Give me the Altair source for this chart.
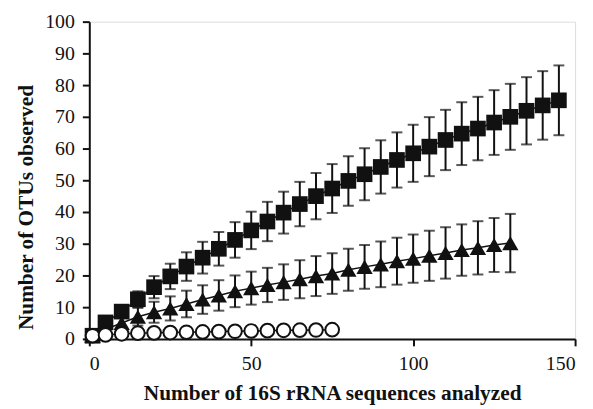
import altair as alt
import pandas as pd

# ---- data ----
sq_x = [1, 5, 10, 15, 20, 25, 30, 35, 40, 45, 50, 55, 60, 65, 70, 75, 80, 85, 90, 95,
        100, 105, 110, 115, 120, 125, 130, 135, 140, 145]
sq_y = [1.0, 5.2, 8.6, 12.5, 16.3, 19.7, 22.8, 25.6, 28.4, 31.2, 34.2, 37.0, 39.8, 42.5,
        45.0, 47.4, 49.8, 51.9, 54.2, 56.4, 58.5, 60.6, 62.7, 64.7, 66.3, 68.2, 70.0, 71.9,
        73.6, 75.2]
sq_err = [0, 1.0, 1.8, 2.5, 3.5, 4.0, 4.5, 5.0, 5.3, 5.6, 5.9, 6.2, 6.6, 7.0, 7.3, 7.7,
          7.8, 8.2, 8.4, 8.7, 9.0, 9.3, 9.5, 9.9, 10.0, 10.2, 10.4, 10.6, 10.8, 11.0]

tri_x = [1, 5, 10, 15, 20, 25, 30, 35, 40, 45, 50, 55, 60, 65, 70, 75, 80, 85, 90, 95,
         100, 105, 110, 115, 120, 125, 130]
tri_y = [1.0, 3.0, 5.0, 7.0, 8.4, 9.6, 11.0, 12.4, 13.7, 15.0, 16.0, 17.0, 17.9, 18.8,
         19.8, 20.6, 21.8, 22.7, 23.5, 24.5, 25.3, 26.2, 27.1, 28.0, 28.7, 29.6, 30.2]
tri_err = [0, 1.0, 2.0, 2.8, 3.3, 3.8, 4.2, 4.5, 4.8, 5.0, 5.2, 5.4, 5.6, 6.0, 6.3, 6.4,
           6.6, 6.9, 7.2, 7.4, 7.6, 7.9, 8.1, 8.1, 8.4, 8.5, 9.2]

cir_x = [1, 5, 10, 15, 20, 25, 30, 35, 40, 45, 50, 55, 60, 65, 70, 75]
cir_y = [1.0, 1.25, 1.6, 1.8, 1.9, 2.0, 2.1, 2.2, 2.3, 2.4, 2.5, 2.6, 2.7, 2.75, 2.8, 2.9]

x_ticks = [0, 50, 100, 150]
y_ticks = [0, 10, 20, 30, 40, 50, 60, 70, 80, 90, 100]

x_title = "Number of 16S rRNA sequences analyzed"
y_title = "Number of OTUs observed"


def frame(xs, ys, errs, name):
    d = pd.DataFrame({"x": xs, "y": ys, "err": errs})
    d["lo"] = d["y"] - d["err"]
    d["hi"] = d["y"] + d["err"]
    d["series"] = name
    return d


sq = frame(sq_x, sq_y, sq_err, "square")
tri = frame(tri_x, tri_y, tri_err, "triangle")
cir = frame(cir_x, cir_y, [0] * len(cir_x), "circle")

xs = alt.Scale(domain=[0, 150], nice=False)
ys = alt.Scale(domain=[0, 100], nice=False)

X_AXIS = alt.Axis(
    title=x_title, values=x_ticks, format="d", labelOverlap=False,
    labelFont="Liberation Serif", labelFontSize=20, labelColor="#111",
    labelPadding=8, tickSize=7, tickWidth=2, tickColor="#111",
    domainColor="#111", domainWidth=2, grid=False,
    titleFont="Liberation Serif", titleFontSize=21.5, titleFontWeight="bold",
    titleColor="#111", titleY=61, titleBaseline="alphabetic")
Y_AXIS = alt.Axis(
    title=y_title, values=y_ticks, format="d", labelOverlap=False,
    labelFont="Liberation Serif", labelFontSize=20, labelColor="#111",
    labelPadding=8, tickSize=7, tickWidth=2, tickColor="#111",
    domainColor="#111", domainWidth=2, grid=False,
    titleFont="Liberation Serif", titleFontSize=21.5, titleFontWeight="bold",
    titleColor="#111", titleX=-57, titleY=187, titleBaseline="alphabetic")


def X(f):
    return alt.X(f + ":Q", scale=xs, axis=X_AXIS)


def Y(f):
    return alt.Y(f + ":Q", scale=ys, axis=Y_AXIS)


def series_layers(d, shape, size, filled):
    base = alt.Chart(d)
    eb = d[d["err"] > 0]
    layers = []
    if len(eb):
        b = alt.Chart(eb)
        layers.append(b.mark_rule(color="#111", strokeWidth=2).encode(
            x=X("x"), y=Y("lo"), y2="hi:Q"))
        layers.append(b.mark_tick(color="#111", thickness=2, size=11, orient="horizontal").encode(
            x=X("x"), y=Y("hi")))
        layers.append(b.mark_tick(color="#111", thickness=2, size=11, orient="horizontal").encode(
            x=X("x"), y=Y("lo")))
    layers.append(base.mark_line(color="#111", strokeWidth=1.5).encode(x=X("x"), y=Y("y")))
    if filled:
        layers.append(base.mark_point(shape=shape, size=size, filled=True,
                                      color="#111", opacity=1).encode(x=X("x"), y=Y("y")))
    else:
        layers.append(base.mark_point(shape=shape, size=size, filled=False,
                                      fill="white", fillOpacity=1, stroke="#111",
                                      strokeWidth=2, opacity=1).encode(x=X("x"), y=Y("y")))
    return layers


layers = []
layers += series_layers(sq, "square", 250, True)
layers += series_layers(tri, "triangle-up", 270, True)
layers += series_layers(cir, "circle", 190, False)

chart = alt.layer(*layers).properties(
    width=490, height=320,
    autosize=alt.AutoSizeParams(type="none"),
    padding={"left": 82, "top": 12, "right": 10, "bottom": 75},
).configure_view(stroke=None).configure(background="white")

chart.save("out.html", embed_options={"renderer": "svg", "actions": False})
